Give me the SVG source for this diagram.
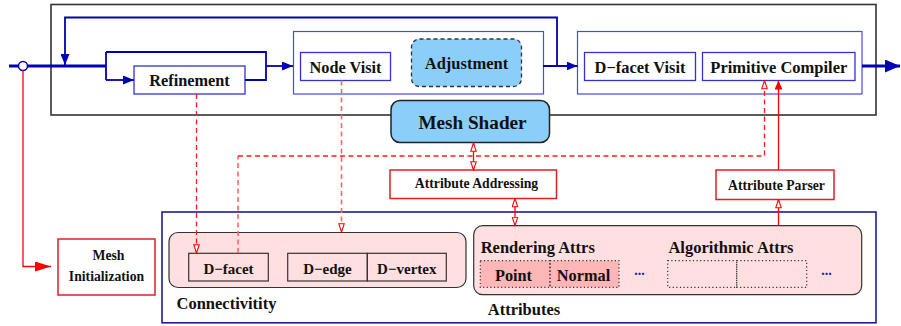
<svg xmlns="http://www.w3.org/2000/svg" width="901" height="326" viewBox="0 0 901 326">
<defs>
<style>
text{font-family:"Liberation Serif","Times New Roman",serif;font-weight:bold;fill:#111;}
.c{text-anchor:middle;}
.box{fill:#fff;stroke:#3232d0;stroke-width:1.3;}
.grp{fill:#fff;stroke:#4a4ae0;stroke-width:1.2;}
.flow{fill:none;stroke:#0000b4;stroke-width:1.8;}
.thick{fill:none;stroke:#0000b4;stroke-width:3;}
.rbox{fill:#fff;stroke:#e02020;stroke-width:1.5;}
.pink{fill:#ffdfe0;stroke:#333;stroke-width:1.2;}
.cell{fill:none;stroke:#333;stroke-width:1.2;}
.dot{stroke:#333;stroke-width:1.2;stroke-dasharray:1.2,2.4;}
.rl{fill:none;stroke:#ff0000;stroke-width:1.3;}
.rd{fill:none;stroke:#ff1a1a;stroke-width:1.3;stroke-dasharray:5,3.5;}
.rdl{fill:none;stroke:#ff6666;stroke-width:1.6;stroke-dasharray:5,3.5;}
.blue{fill:#8ccefa;stroke:#222;stroke-width:1.5;}
.ell{fill:#1a1ad0;font-size:14px;}
</style>
<marker id="ab" markerUnits="userSpaceOnUse" markerWidth="12" markerHeight="9" refX="11" refY="4.5" orient="auto"><path d="M0,0 L11,4.5 L0,9 z" fill="#0000b4"/></marker>
<marker id="abig" markerUnits="userSpaceOnUse" markerWidth="15" markerHeight="13" refX="15" refY="6.5" orient="auto"><path d="M0,0 L15,6.5 L0,13 z" fill="#0000b4"/></marker>
<marker id="rf" markerUnits="userSpaceOnUse" markerWidth="16" markerHeight="10" refX="16" refY="5" orient="auto"><path d="M0,0 L16,5 L0,10 z" fill="#ff0000"/></marker>
<marker id="rfs" markerUnits="userSpaceOnUse" markerWidth="9" markerHeight="8" refX="9" refY="4" orient="auto"><path d="M0,0 L9,4 L0,8 z" fill="#ff0000"/></marker>
<marker id="rh" markerUnits="userSpaceOnUse" markerWidth="10" markerHeight="8" refX="9" refY="3.5" orient="auto-start-reverse"><path d="M0.8,0.8 L9,3.5 L0.8,6.2 z" fill="#fff" stroke="#ff0000" stroke-width="1.1"/></marker>
</defs>

<g id="pipeline-frame">
<rect x="51" y="4.5" width="825" height="110.5" fill="none" stroke="#333" stroke-width="1.6"/>
</g>

<g id="refinement">
<rect class="box" x="134" y="66" width="111" height="28"/>
<text class="c" x="189.5" y="86" font-size="16.3">Refinement</text>
</g>

<g id="visit-group">
<rect class="grp" x="293.5" y="31.5" width="250" height="62.5"/>
</g>
<g id="node-visit">
<rect class="box" x="300.5" y="52.5" width="90" height="28"/>
<text class="c" x="345.5" y="72.5" font-size="16.3">Node Visit</text>
</g>
<g id="adjustment">
<rect x="411.5" y="39" width="110" height="47.5" rx="8" fill="#8ccefa" stroke="#333" stroke-width="1.3" stroke-dasharray="4,3"/>
<text class="c" x="466.5" y="69" font-size="16.5">Adjustment</text>
</g>

<g id="compile-group">
<rect class="grp" x="577.5" y="31.5" width="284.5" height="62.5"/>
</g>
<g id="dfacet-visit">
<rect class="box" x="584.5" y="52.5" width="111" height="28"/>
<text class="c" x="640" y="73" font-size="16.4">D−facet Visit</text>
</g>
<g id="primitive-compiler">
<rect class="box" x="702.5" y="52.5" width="152.5" height="28"/>
<text class="c" x="778.8" y="73" font-size="16.5">Primitive Compiler</text>
</g>

<g id="mesh-shader">
<rect class="blue" x="391" y="100.5" width="158.5" height="42" rx="9"/>
<text class="c" x="472.5" y="129" font-size="19.2">Mesh Shader</text>
</g>

<g id="attribute-addressing">
<rect class="rbox" x="390" y="170" width="166.5" height="28.5"/>
<text class="c" x="476.5" y="188.3" font-size="13.7">Attribute Addressing</text>
</g>

<g id="attribute-parser">
<rect class="rbox" x="716" y="170" width="118" height="29.5"/>
<text class="c" x="776.5" y="190" font-size="13.7">Attribute Parser</text>
</g>

<g id="mesh-initialization">
<rect class="rbox" x="58" y="239" width="97" height="56"/>
<text class="c" x="108.5" y="260" font-size="13.7">Mesh</text>
<text class="c" x="106.5" y="280.7" font-size="13.7">Initialization</text>
</g>

<g id="data-frame">
<rect x="162" y="212" width="714" height="110.8" fill="none" stroke="#1c1c9c" stroke-width="1.6"/>
</g>

<g id="connectivity">
<rect class="pink" x="169" y="232.5" width="297" height="55" rx="9"/>
<rect class="cell" x="188.7" y="253.3" width="79.6" height="27.7"/>
<text class="c" x="228.5" y="274" font-size="15">D−facet</text>
<rect class="cell" x="287.7" y="253.3" width="79.6" height="27.7"/>
<text class="c" x="327.5" y="274" font-size="15">D−edge</text>
<rect class="cell" x="367.3" y="253.3" width="79" height="27.7"/>
<text class="c" x="406.8" y="274" font-size="15">D−vertex</text>
<text x="176.5" y="309" font-size="16.5">Connectivitity</text>
</g>

<g id="attributes">
<rect class="pink" x="473.7" y="225.7" width="388" height="69" rx="9"/>
<text x="480.7" y="252.5" font-size="16.5">Rendering Attrs</text>
<text class="c" x="731" y="252.5" font-size="16.5">Algorithmic Attrs</text>
<rect x="480.3" y="260.7" width="138.7" height="26.6" fill="#ffb6b6"/>
<rect class="dot" x="480.3" y="260.7" width="69.7" height="26.6" fill="none"/>
<rect class="dot" x="550" y="260.7" width="69" height="26.6" fill="none"/>
<text class="c" x="513.5" y="281" font-size="16.3">Point</text>
<text class="c" x="583.5" y="281" font-size="16.3">Normal</text>
<text class="c ell" x="639.5" y="275">...</text>
<rect class="dot" x="667.7" y="260.7" width="69" height="26.6" fill="none"/>
<rect class="dot" x="736.7" y="260.7" width="70" height="26.6" fill="none"/>
<text class="c ell" x="826.5" y="275">...</text>
<text class="c" x="524" y="315" font-size="16.5">Attributes</text>
</g>

<g id="connectors">
<line class="thick" x1="9" y1="66" x2="106" y2="66"/>
<path class="flow" d="M106,52 V80"/>
<path class="flow" d="M106,52 H266 V80 H245"/>
<path class="flow" d="M106,80 H134" marker-end="url(#ab)"/>
<path class="flow" d="M266,66 H293" marker-end="url(#ab)"/>
<path class="flow" d="M557,66 V17.5 H65 V65" marker-end="url(#ab)"/>
<path class="flow" d="M543,66 H577.5" marker-end="url(#ab)"/>
<path class="thick" d="M862,66 H900" marker-end="url(#abig)"/>
<circle cx="23" cy="66" r="4.5" fill="#fff" stroke="#0000b4" stroke-width="1.5"/>
<path class="rl" d="M23,70.5 V266.5 H51" marker-end="url(#rf)"/>
<path class="rd" d="M196.5,94 V253" marker-end="url(#rh)"/>
<path class="rdl" d="M341.5,80.5 V232" marker-end="url(#rh)"/>
<path class="rdl" d="M238,253 V156"/>
<path class="rd" d="M238,156 H764.5 V80.5" marker-end="url(#rh)"/>
<path class="rl" d="M778.5,170 V80.5" marker-end="url(#rfs)"/>
<path class="rl" d="M778.5,225.5 V199.5" marker-end="url(#rh)"/>
<path class="rl" d="M473.5,143 V170" marker-start="url(#rh)" marker-end="url(#rh)"/>
<path class="rl" d="M515,198.5 V225.5" marker-start="url(#rh)" marker-end="url(#rh)"/>
</g>
</svg>
